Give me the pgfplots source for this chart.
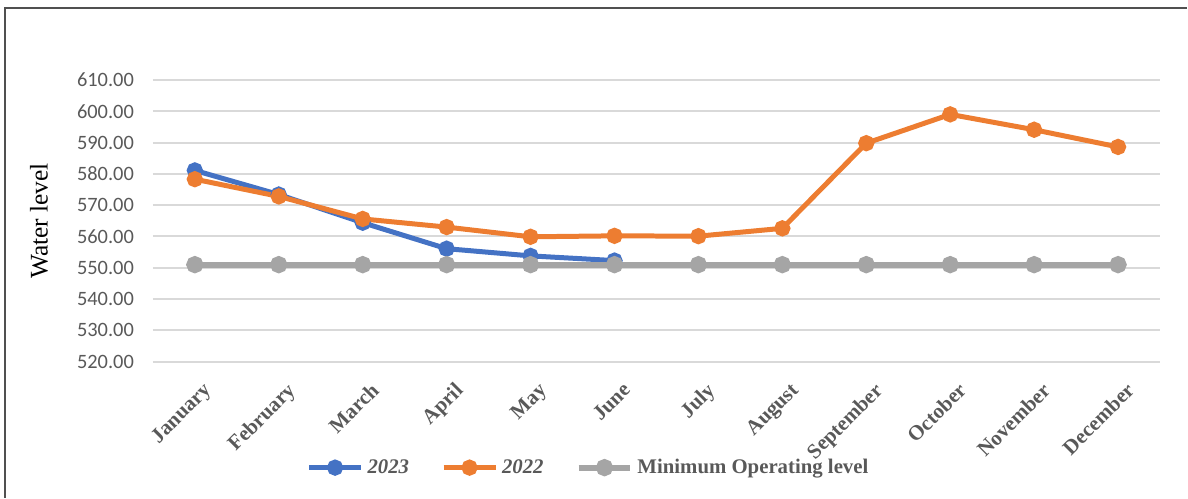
\documentclass[border=0pt]{standalone}
\usepackage{fontspec}
\setmainfont{Liberation Serif}
\newfontfamily\carlito{Carlito}
\usepackage{pgfplots}
\pgfplotsset{compat=1.18}
\definecolor{cA}{HTML}{4472C4}
\definecolor{cB}{HTML}{ED7D31}
\definecolor{cC}{HTML}{A5A5A5}
\definecolor{gridc}{HTML}{D9D9D9}
\definecolor{tickc}{HTML}{595959}
\definecolor{framec}{HTML}{505050}
\begin{document}
\begin{tikzpicture}
\path (0,0) rectangle (594bp,249bp);
\draw[color=framec, line width=1bp] (2.5bp,0) -- (2.5bp,245bp) -- (594bp,245bp);
\begin{axis}[
  scale only axis, width=504bp, height=141bp,
  at={(76.5bp,68bp)}, anchor=south west,
  xmin=-0.5, xmax=11.5, ymin=520, ymax=610,
  ytick={520,530,...,610},
  xtick={0,...,11},
  xticklabels={January,February,March,April,May,June,July,August,September,October,November,December},
  axis line style={draw=none},
  major tick length=0pt,
  ymajorgrids,
  major grid style={draw=gridc, line width=1bp},
  yticklabel style={font=\carlito\fontsize{10.2bp}{12bp}\selectfont, text=tickc, xshift=-6bp},
  xticklabel style={font=\bfseries\fontsize{10.5bp}{12bp}\selectfont, text=tickc, rotate=45, anchor=north east, yshift=-6bp, xshift=-1bp},
  /pgf/number format/.cd, fixed, fixed zerofill, precision=2, 1000 sep={}, assume math mode=true,
  /pgfplots/.cd,
  ylabel={Water level},
  ylabel style={font=\fontsize{12.7bp}{14bp}\selectfont, text=black, at={(axis description cs:-0.113,0.5)}, anchor=center},
  legend columns=3,
  legend style={at={(axis description cs:0.4335,-0.376)}, anchor=center, draw=none, fill=none,
    font=\bfseries\fontsize{10.4bp}{12bp}\selectfont, text=tickc,
    /tikz/every even column/.append style={column sep=14bp}},
  legend image code/.code={\draw[mark repeat=2,mark phase=2] plot coordinates {(0bp,0bp)(13bp,0bp)(26bp,0bp)};},
  every axis plot/.append style={line width=2.5bp, mark=*, mark size=2.8bp, mark options={solid}},
]
\addplot[color=cA] coordinates {(0,581.1)(1,573.4)(2,564.4)(3,556.1)(4,553.8)(5,552.3)};
\addplot[color=cB] coordinates {(0,578.3)(1,572.8)(2,565.6)(3,563.0)(4,559.9)(5,560.2)(6,560.1)(7,562.6)(8,589.8)(9,599.0)(10,594.1)(11,588.6)};
\addplot[color=cC, line width=3bp] coordinates {(0,551)(1,551)(2,551)(3,551)(4,551)(5,551)(6,551)(7,551)(8,551)(9,551)(10,551)(11,551)};
\legend{\textit{2023},\textit{2022},Minimum Operating level}
\end{axis}
\end{tikzpicture}
\end{document}
